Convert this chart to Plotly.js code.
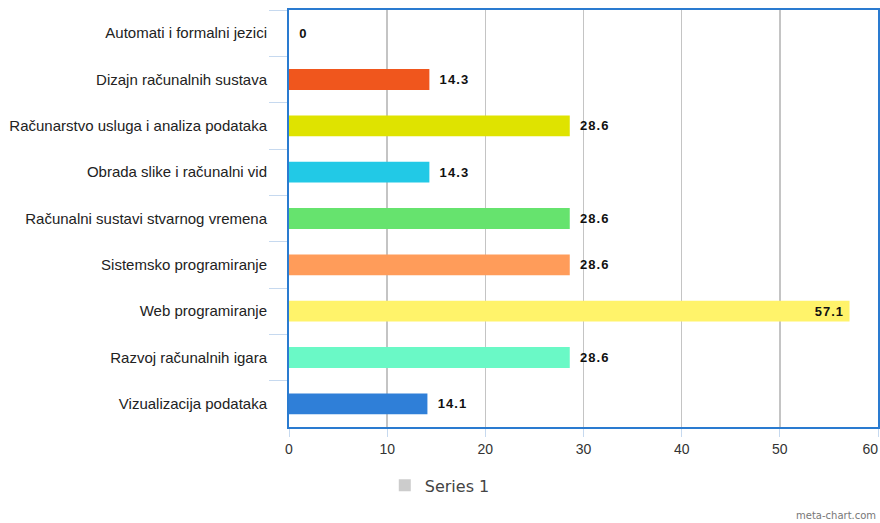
<!DOCTYPE html>
<html>
<head>
<meta charset="utf-8">
<script src="https://cdn.plot.ly/plotly-3.0.1.min.js"></script>
<style>html,body{margin:0;padding:0;background:#fff;}#chart{width:880px;height:523px;}</style>
</head>
<body>
<div id="chart"></div>
<script>
const categories = [
  "Automati i formalni jezici",
  "Dizajn računalnih sustava",
  "Računarstvo usluga i analiza podataka",
  "Obrada slike i računalni vid",
  "Računalni sustavi stvarnog vremena",
  "Sistemsko programiranje",
  "Web programiranje",
  "Razvoj računalnih igara",
  "Vizualizacija podataka"
];
const values = [0, 14.3, 28.6, 14.3, 28.6, 28.6, 57.1, 28.6, 14.1];
const barColors = ["#cccccc", "#f0561d", "#dfe300", "#22c9e6", "#66e36e", "#ff9c5a", "#fff36a", "#6af9c6", "#2f7fd8"];
const seriesName = "Series 1";
const xTicks = [0, 10, 20, 30, 40, 50, 60];
const xTickText = ["0", "10", "20", "30", "40", "50", "60"];

const textPos = values.map(v => v > 50 ? "inside" : "outside");
// value labels, spaced like the reference renderer
const spaced = s => s.split("").join("\u200a");
const labels = values.map((v, i) => (textPos[i] === "outside" ? "\u00a0\u00a0" : "") + spaced(String(v)) + (textPos[i] === "inside" ? "\u00a0" : ""));

const lblFont = { family: "Liberation Sans, Arial, sans-serif", size: 13, color: "#111", weight: "bold" };

const data = [
  {
    type: "bar",
    orientation: "h",
    x: values,
    y: categories,
    marker: { color: barColors },
    text: labels,
    textposition: textPos,
    insidetextanchor: "end",
    textfont: lblFont,
    insidetextfont: lblFont,
    outsidetextfont: lblFont,
    cliponaxis: false,
    showlegend: false,
    hoverinfo: "x+y"
  },
  {
    type: "bar",
    orientation: "h",
    x: [null],
    y: [categories[0]],
    name: seriesName,
    marker: { color: "#cccccc" },
    showlegend: true
  }
];

// last tick label sits just inside the chart's right edge, as in the reference
const tickTextShown = xTickText.map((t, i) => i === xTickText.length - 1 ? t + "\u00a0\u00a0\u00a0\u00a0" : t);

const layout = {
  width: 880,
  height: 523,
  margin: { l: 289, r: 2, t: 10, b: 96 },
  paper_bgcolor: "#ffffff",
  plot_bgcolor: "#ffffff",
  barmode: "overlay",
  bargap: 0.55,
  font: { family: "Liberation Sans, Arial, sans-serif", size: 13, color: "#222" },
  xaxis: {
    range: [0, 60],
    tickvals: xTicks,
    ticktext: tickTextShown,
    showgrid: true,
    gridcolor: "#c4c4c4",
    gridwidth: 1.5,
    zeroline: false,
    showline: true,
    linecolor: "#2a7bd0",
    linewidth: 2,
    mirror: true,
    ticks: "outside",
    ticklen: 8,
    tickcolor: "#c6d9ef",
    ticklabeloverflow: "allow",
    tickfont: { size: 14, color: "#333" },
    fixedrange: true
  },
  yaxis: {
    type: "category",
    autorange: "reversed",
    showgrid: false,
    zeroline: false,
    showline: true,
    linecolor: "#2a7bd0",
    linewidth: 2,
    mirror: true,
    ticks: "outside",
    tickson: "boundaries",
    ticklen: 18,
    tickcolor: "#c6d9ef",
    ticklabelstandoff: 17,
    tickfont: { size: 15, color: "#222" },
    fixedrange: true
  },
  legend: {
    orientation: "h",
    x: 0.256,
    xanchor: "center",
    y: -0.14,
    yanchor: "middle",
    font: { family: "DejaVu Sans, sans-serif", size: 16, color: "#444" }
  },
  annotations: [
    {
      text: "meta-chart.com",
      xref: "paper", yref: "paper",
      x: 1, y: -0.212,
      xanchor: "right", yanchor: "middle",
      showarrow: false,
      font: { family: "DejaVu Sans, sans-serif", size: 10, color: "#777" }
    }
  ]
};

Plotly.newPlot("chart", data, layout, { displayModeBar: false, staticPlot: true });
</script>
</body>
</html>
